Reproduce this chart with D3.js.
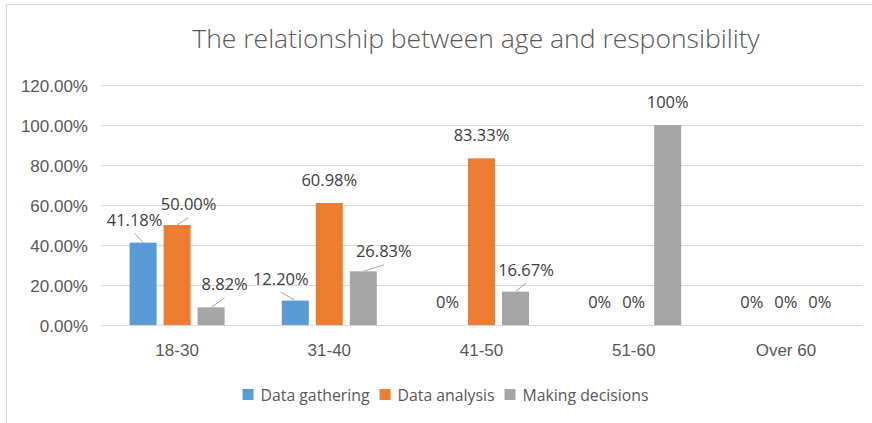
<!DOCTYPE html>
<html>
<head>
<meta charset="utf-8">
<script src="https://cdn.jsdelivr.net/npm/d3@7/dist/d3.min.js"></script>
<style>
  html, body { margin: 0; padding: 0; background: #fff; }
  svg { display: block; font-family: "Open Sans", "Noto Sans", sans-serif; }
</style>
</head>
<body>
<svg id="chart" width="872" height="423"></svg>
<script>
// ---- data ----
const title = "The relationship between age and responsibility";
const categories = ["18-30", "31-40", "41-50", "51-60", "Over 60"];
const seriesNames = ["Data gathering", "Data analysis", "Making decisions"];
const dataGathering   = [41.18, 12.20, 0, 0, 0];
const dataAnalysis    = [50.00, 60.98, 83.33, 0, 0];
const makingDecisions = [8.82, 26.83, 16.67, 100, 0];
const yTicks = [0, 20, 40, 60, 80, 100, 120];

// ---- style / layout ----
const colors = ["#5B9BD5", "#ED7D31", "#A5A5A5"];
const plot = { left: 101, right: 862, top: 85, bottom: 325 };
// labels pulled away from their bars (drawn with a leader line)
const labelNudge = {
  "0|0": [-8.5, 0], "1|0": [11.5, 2], "2|0": [13.5, 0],
  "0|1": [-14.5, 1], "2|1": [20.5, 3], "2|2": [10.5, 1]
};

const seriesValues = [dataGathering, dataAnalysis, makingDecisions];
const svg = d3.select("#chart");

// chart-area border
svg.append("rect")
  .attr("x", 6.5).attr("y", 4.5).attr("width", 900).attr("height", 500)
  .attr("fill", "#fff").attr("stroke", "#d9d9d9").attr("stroke-width", 1);

const x = d3.scaleBand().domain(categories).range([plot.left, plot.right]);
const xInner = d3.scaleBand().domain(d3.range(seriesNames.length))
  .range([-47.5, 47.5]).paddingInner(0.206).paddingOuter(0);
const y = d3.scaleLinear().domain([0, 120]).range([plot.bottom, plot.top]);

// gridlines + y tick labels
const yAxis = svg.append("g")
  .attr("transform", `translate(${plot.left},0)`)
  .call(d3.axisLeft(y).tickValues(yTicks)
    .tickSize(-(plot.right - plot.left)).tickPadding(13)
    .tickFormat(d => d3.format(".2f")(d) + "%"));
yAxis.select(".domain").remove();
yAxis.selectAll(".tick line").attr("stroke", "#d9d9d9").attr("stroke-width", 1);
yAxis.selectAll(".tick text")
  .attr("fill", "#595959").style("font-size", "17px")
  .attr("dy", "0.38em");

// category axis labels
const xAxis = svg.append("g")
  .attr("transform", `translate(0,${plot.bottom})`)
  .call(d3.axisBottom(x).tickSize(0).tickPadding(19));
xAxis.select(".domain").remove();
xAxis.selectAll(".tick text")
  .attr("fill", "#595959").style("font-size", "17px").attr("dy", "0.71em");

// bars
const flat = [];
seriesValues.forEach((vals, s) => vals.forEach((v, c) => flat.push({ s, c, v })));

svg.append("g").selectAll("rect").data(flat).join("rect")
  .attr("x", d => x(categories[d.c]) + x.bandwidth() / 2 + xInner(d.s))
  .attr("y", d => y(d.v))
  .attr("width", xInner.bandwidth())
  .attr("height", d => y(0) - y(d.v))
  .attr("fill", d => colors[d.s]);

// value labels
const fmt = v => (v === 0 || v === 100) ? v + "%" : v.toFixed(2) + "%";
const labelPos = d => {
  const cx = x(categories[d.c]) + x.bandwidth() / 2 + xInner(d.s) + xInner.bandwidth() / 2;
  const nudge = labelNudge[d.s + "|" + d.c] || [0, 0];
  return { bx: cx, by: y(d.v), lx: cx + nudge[0], ly: y(d.v) - 17 + nudge[1] };
};

svg.append("g").selectAll("line").data(flat.filter(d => labelNudge[d.s + "|" + d.c])).join("line")
  .attr("x1", d => labelPos(d).bx).attr("y1", d => labelPos(d).by)
  .attr("x2", d => labelPos(d).lx).attr("y2", d => labelPos(d).ly + 7.5)
  .attr("stroke", "#a6a6a6").attr("stroke-width", 1);

svg.append("g").selectAll("text").data(flat).join("text")
  .attr("x", d => labelPos(d).lx).attr("y", d => labelPos(d).ly)
  .attr("text-anchor", "middle")
  .attr("fill", "#404040").style("font-size", "16.5px")
  .text(d => fmt(d.v));

// title
svg.append("text")
  .attr("x", 476).attr("y", 48).attr("text-anchor", "middle")
  .attr("fill", "#595959").style("font-size", "26.5px").style("font-weight", 300)
  .text(title);

// legend
const legend = svg.append("g").attr("transform", "translate(0,395)");
const items = legend.selectAll("g").data(seriesNames).join("g");
items.append("rect").attr("width", 11).attr("height", 11).attr("y", -6)
  .attr("fill", (d, i) => colors[i]);
items.append("text").attr("x", 18).attr("dy", "0.36em")
  .attr("fill", "#595959").style("font-size", "15.8px").text(d => d);
let offsets = [], cur = 0;
items.each(function () {
  offsets.push(cur);
  cur += 18 + this.querySelector("text").getComputedTextLength() + 10;
});
const total = cur - 10;
const startX = 445.5 - total / 2;
items.attr("transform", (d, i) => `translate(${startX + offsets[i]},0)`);
</script>
</body>
</html>
